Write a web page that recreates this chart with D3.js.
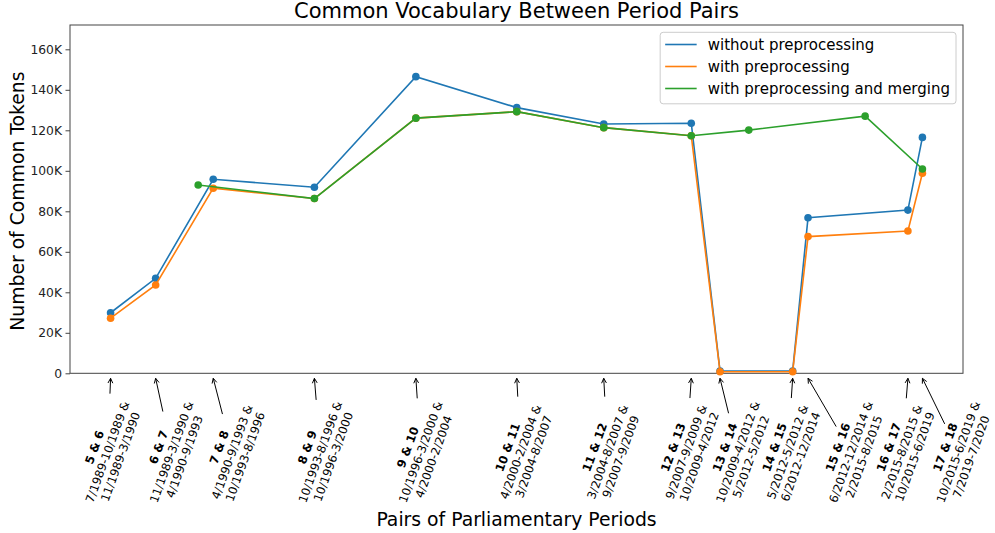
<!DOCTYPE html>
<html>
<head>
<meta charset="utf-8">
<script src="https://cdn.jsdelivr.net/npm/d3@7"></script>
<style>
	body { margin: 0; background: #ffffff; }
	svg { display: block; font-family: "DejaVu Sans", sans-serif; }
</style>
</head>
<body>
<svg id="chart" width="995" height="533"></svg>
<script>
// Pairs of parliamentary periods (x positions are the middle of each pair's span).
var PAIR_NAMES = ["5 & 6", "6 & 7", "7 & 8", "8 & 9", "9 & 10", "10 & 11", "11 & 12",
	"12 & 13", "13 & 14", "14 & 15", "15 & 16", "16 & 17", "17 & 18"];
var PAIR_PERIODS = [
	["7/1989-10/1989 &", "11/1989-3/1990"],
	["11/1989-3/1990 &", "4/1990-9/1993"],
	["4/1990-9/1993 &", "10/1993-8/1996"],
	["10/1993-8/1996 &", "10/1996-3/2000"],
	["10/1996-3/2000 &", "4/2000-2/2004"],
	["4/2000-2/2004 &", "3/2004-8/2007"],
	["3/2004-8/2007 &", "9/2007-9/2009"],
	["9/2007-9/2009 &", "10/2009-4/2012"],
	["10/2009-4/2012 &", "5/2012-5/2012"],
	["5/2012-5/2012 &", "6/2012-12/2014"],
	["6/2012-12/2014 &", "2/2015-8/2015"],
	["2/2015-8/2015 &", "10/2015-6/2019"],
	["10/2015-6/2019 &", "7/2019-7/2020"]
];
var PAIR_DATES = ["1989-11-15", "1991-06-10", "1993-06-10", "1996-12-15", "2000-06-25", "2003-12-28",
	"2007-01-05", "2010-01-20", "2011-01-20", "2013-07-30", "2014-02-10", "2017-08-01", "2018-02-01"];
var WITHOUT_PREPROCESSING = [29900, 46900, 95800, 91900, 146500, 131200, 123100,
	123500, 1100, 1100, 76800, 80600, 116500];
var WITH_PREPROCESSING = [27200, 43600, 91400, 86300, 126000, 129200, 121300,
	117300, 800, 800, 67500, 70300, 98800];
// Merged periods sit at different positions.
var MERGED_DATES = ["1992-12-01", "1996-12-15", "2000-06-25", "2003-12-28", "2007-01-05",
	"2010-01-20", "2012-01-20", "2016-02-05", "2018-02-01"];
var WITH_MERGING = [93000, 86300, 126000, 129200, 121300, 117300, 120100, 127000, 100900];

var SERIES_NAMES = ["without preprocessing", "with preprocessing", "with preprocessing and merging"];
var SERIES_COLORS = ["#1f77b4", "#ff7f0e", "#2ca02c"];
var Y_TICKS = [0, 20000, 40000, 60000, 80000, 100000, 120000, 140000, 160000];
var Y_MAX = 172000;

// Horizontal shift of each rotated label block from its arrow target (px).
var LABEL_SHIFT = [-3, 16, 19, 6, 5, 4, 4, -5, 18, -5, 43, -6, 36];

var W = 995, H = 533;
var plot = {left: 70, right: 963, top: 25, bottom: 373.3};
var parseDate = d3.timeParse("%Y-%m-%d");
var svg = d3.select("#chart");

var pairDates = PAIR_DATES.map(parseDate);
var mergedDates = MERGED_DATES.map(parseDate);

// Matplotlib style 5% margins on the x data range.
var t0 = pairDates[0].getTime(), t1 = pairDates[pairDates.length - 1].getTime();
var pad = (t1 - t0) * 0.05;
var x = d3.scaleTime()
	.domain([new Date(t0 - pad), new Date(t1 + pad)])
	.range([plot.left, plot.right]);
var y = d3.scaleLinear().domain([0, Y_MAX]).range([plot.bottom, plot.top]);

// Title
svg.append("text")
	.attr("x", (plot.left + plot.right) / 2)
	.attr("y", 17.5)
	.attr("text-anchor", "middle")
	.attr("font-size", "21px")
	.attr("fill", "#000")
	.text("Common Vocabulary Between Period Pairs");

// Y axis with K labels
var yAxis = d3.axisLeft(y)
	.tickValues(Y_TICKS)
	.tickSize(4.5)
	.tickPadding(3.5)
	.tickFormat(function(d) { return d === 0 ? "0" : (d / 1000) + "K"; });
var yg = svg.append("g")
	.attr("transform", "translate(" + plot.left + ",0)")
	.call(yAxis);
yg.select(".domain").remove();
yg.selectAll("line").attr("stroke", "#444").attr("stroke-width", 1);
yg.selectAll("text")
	.attr("font-family", "DejaVu Sans, sans-serif")
	.attr("font-size", "12.3px")
	.attr("fill", "#222");

// Frame around the plot area
svg.append("rect")
	.attr("x", plot.left)
	.attr("y", plot.top)
	.attr("width", plot.right - plot.left)
	.attr("height", plot.bottom - plot.top)
	.attr("fill", "none")
	.attr("stroke", "#444")
	.attr("stroke-width", 1);

// Axis titles
svg.append("text")
	.attr("transform", "translate(24," + ((plot.top + plot.bottom) / 2 + 2) + ") rotate(-90)")
	.attr("text-anchor", "middle")
	.attr("font-size", "18.8px")
	.attr("fill", "#000")
	.text("Number of Common Tokens");
svg.append("text")
	.attr("x", (plot.left + plot.right) / 2)
	.attr("y", 526)
	.attr("text-anchor", "middle")
	.attr("font-size", "18.8px")
	.attr("fill", "#000")
	.text("Pairs of Parliamentary Periods");

// Lines with markers, drawn in legend order
var seriesData = [
	pairDates.map(function(d, i) { return {date: d, value: WITHOUT_PREPROCESSING[i]}; }),
	pairDates.map(function(d, i) { return {date: d, value: WITH_PREPROCESSING[i]}; }),
	mergedDates.map(function(d, i) { return {date: d, value: WITH_MERGING[i]}; })
];
var line = d3.line()
	.x(function(d) { return x(d.date); })
	.y(function(d) { return y(d.value); });

seriesData.forEach(function(points, s)
{
	var g = svg.append("g");
	g.append("path")
		.datum(points)
		.attr("d", line)
		.attr("fill", "none")
		.attr("stroke", SERIES_COLORS[s])
		.attr("stroke-width", 1.6);
	g.selectAll("circle")
		.data(points)
		.enter()
		.append("circle")
		.attr("cx", function(d) { return x(d.date); })
		.attr("cy", function(d) { return y(d.value); })
		.attr("r", 3.8)
		.attr("fill", SERIES_COLORS[s]);
});

// Rotated pair labels with arrows pointing at the pair position.
var ANGLE = 70, FONT = 11.7, LINE_H = 13.8, LABEL_CY = 452;
var rad = ANGLE * Math.PI / 180;
var ex = [Math.cos(rad), -Math.sin(rad)];   // local x axis on screen
var ey = [Math.sin(rad), Math.cos(rad)];    // local y axis on screen
var shrink = 2.4;

PAIR_NAMES.forEach(function(name, i)
{
	var tx = x(pairDates[i]), ty = plot.bottom + 5;
	var cx = tx + LABEL_SHIFT[i], cy = LABEL_CY;

	var outer = svg.append("g")
		.attr("transform", "translate(" + cx + "," + cy + ") rotate(" + (-ANGLE) + ")");
	var inner = outer.append("g");
	var lines = [name].concat(PAIR_PERIODS[i]);
	lines.forEach(function(txt, j)
	{
		inner.append("text")
			.attr("x", 0)
			.attr("y", j * LINE_H)
			.attr("text-anchor", "middle")
			.attr("font-size", FONT + "px")
			.attr("font-weight", j === 0 ? "bold" : "normal")
			.attr("fill", "#000")
			.text(txt);
	});
	var bb = inner.node().getBBox();
	inner.attr("transform", "translate(" + (-(bb.x + bb.width / 2)) + "," + (-(bb.y + bb.height / 2)) + ")");

	// Clip the arrow at the rotated text box, like matplotlib does.
	var dx = tx - cx, dy = ty - cy;
	var len = Math.sqrt(dx * dx + dy * dy);
	var ux = dx / len, uy = dy / len;
	var lx = Math.abs(ux * ex[0] + uy * ex[1]);
	var ly = Math.abs(ux * ey[0] + uy * ey[1]);
	var hw = bb.width / 2, hh = bb.height / 2;
	var t = Math.min(lx > 1e-6 ? hw / lx : 1e9, ly > 1e-6 ? hh / ly : 1e9) + shrink;
	var sx = cx + ux * t, sy = cy + uy * t;

	svg.append("line")
		.attr("x1", sx).attr("y1", sy)
		.attr("x2", tx).attr("y2", ty)
		.attr("stroke", "#000")
		.attr("stroke-width", 1);
	// Open arrow head
	var hl = 4.8, hwid = 2.4;
	var bx = tx - ux * hl, by = ty - uy * hl;
	svg.append("path")
		.attr("d", "M" + (bx - uy * hwid) + "," + (by + ux * hwid) +
			"L" + tx + "," + ty +
			"L" + (bx + uy * hwid) + "," + (by - ux * hwid))
		.attr("fill", "none")
		.attr("stroke", "#000")
		.attr("stroke-width", 1);
});

// Legend in the upper right
var LEG_FONT = 15, LEG_ROW = 22;
var legend = svg.append("g");
var legBox = legend.append("rect");
var texts = [];
SERIES_NAMES.forEach(function(nm, i)
{
	var ry = i * LEG_ROW;
	legend.append("line")
		.attr("x1", 0).attr("x2", 31.5)
		.attr("y1", ry).attr("y2", ry)
		.attr("stroke", SERIES_COLORS[i])
		.attr("stroke-width", 1.6);
	texts.push(legend.append("text")
		.attr("x", 42.6)
		.attr("y", ry)
		.attr("dy", "0.35em")
		.attr("font-size", LEG_FONT + "px")
		.attr("fill", "#000")
		.text(nm));
});
var maxW = d3.max(texts, function(t) { return t.node().getComputedTextLength(); });
var boxW = 5 + 42.6 + maxW + 6, boxH = 2 * LEG_ROW + 27.5;
legBox
	.attr("x", -5).attr("y", -12.2)
	.attr("width", boxW).attr("height", boxH)
	.attr("rx", 3)
	.attr("fill", "#ffffff").attr("fill-opacity", 0.8)
	.attr("stroke", "#cccccc").attr("stroke-width", 1);
legend.attr("transform", "translate(" + (plot.right - 7 - boxW + 5) + "," + (plot.top + 7.3 + 12.2) + ")");
</script>
</body>
</html>
